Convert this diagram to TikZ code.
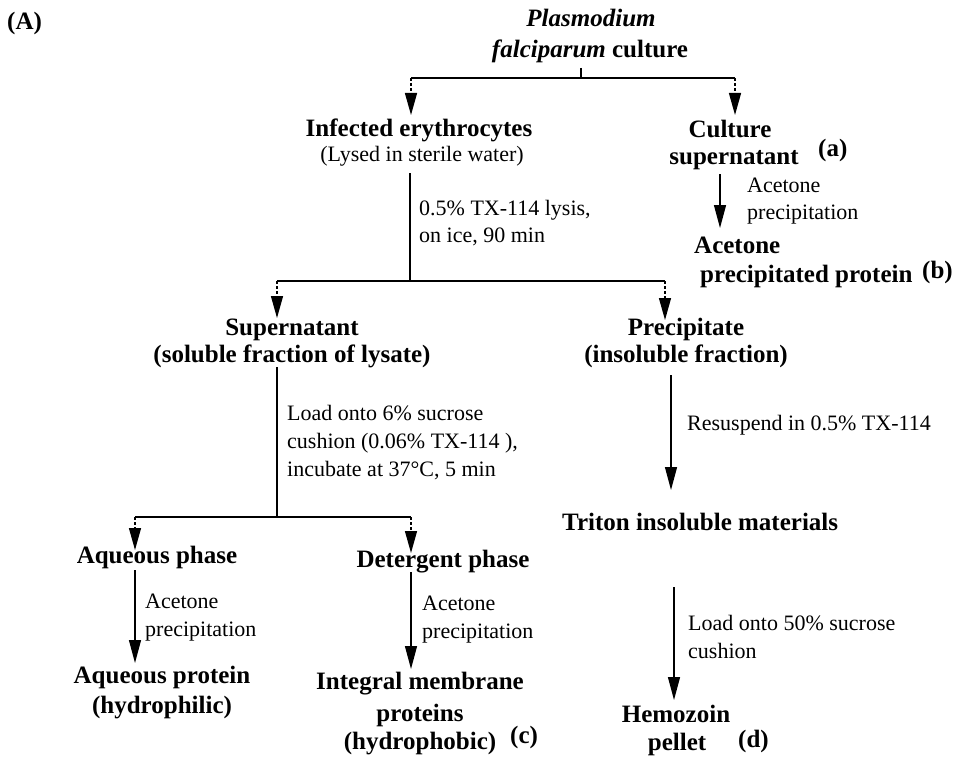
\documentclass[tikz,border=0pt]{standalone}
\usepackage{fontspec}
\setmainfont{Liberation Serif}
\usetikzlibrary{arrows.meta}
\tikzset{
  bt/.style={font=\fontsize{25}{29}\selectfont\bfseries, inner sep=0pt},
  rt/.style={font=\fontsize{22}{26}\selectfont, inner sep=0pt},
  conn/.style={line width=1.3pt},
  arr/.style={line width=1.3pt, -{Triangle[length=23pt,width=12pt]}},
  darr/.style={line width=1.3pt, dash pattern=on 3pt off 2pt, -{Triangle[length=22pt,width=12pt]}},
}
\begin{document}
\begin{tikzpicture}[x=1pt,y=-1pt]
\useasboundingbox (0,0) rectangle (963,757);
% texts
\node[bt, anchor=base west] (lblA) at (7,30) {(A)};
\node[bt, anchor=base] (pf1) at (591,27) {\itshape Plasmodium};
\node[bt, anchor=base] (pf2) at (590,58) {\textit{falciparum} culture};
\node[bt, anchor=base] (inf1) at (419,136) {Infected erythrocytes};
\node[rt, anchor=base] (inf2) at (422,161) {(Lysed in sterile water)};
\node[bt, anchor=base] (cs1) at (730,137) {Culture};
\node[bt, anchor=base] (cs2) at (734,164) {supernatant};
\node[bt, anchor=base west] (la) at (818,156) {(a)};
\node[rt, anchor=base west] (acl1) at (747,192) {Acetone};
\node[rt, anchor=base west] (acl2) at (747,219) {precipitation};
\node[bt, anchor=base west] (ap1) at (694,253) {Acetone};
\node[bt, anchor=base west] (ap2) at (700,282) {precipitated protein};
\node[bt, anchor=base west] (lb) at (922,278) {(b)};
\node[rt, anchor=base west] (lys1) at (419,215) {0.5\% TX-114 lysis,};
\node[rt, anchor=base west] (lys2) at (419,242) {on ice, 90 min};
\node[bt, anchor=base] (sup1) at (292,335) {Supernatant};
\node[bt, anchor=base] (sup2) at (292,362) {(soluble fraction of lysate)};
\node[bt, anchor=base] (pre1) at (686,335) {Precipitate};
\node[bt, anchor=base] (pre2) at (686,362) {(insoluble fraction)};
\node[rt, anchor=base west] (suc1) at (287,420) {Load onto 6\% sucrose};
\node[rt, anchor=base west] (suc2) at (287,448) {cushion (0.06\% TX-114 ),};
\node[rt, anchor=base west] (suc3) at (287,476) {incubate at 37°C, 5 min};
\node[bt, anchor=base] (aq1) at (157,563) {Aqueous phase};
\node[bt, anchor=base] (de1) at (443,567) {Detergent phase};
\node[rt, anchor=base west] (aqa1) at (145,608) {Acetone};
\node[rt, anchor=base west] (aqa2) at (145,636) {precipitation};
\node[bt, anchor=base] (aqp1) at (162,683) {Aqueous protein};
\node[bt, anchor=base] (aqp2) at (162,713) {(hydrophilic)};
\node[rt, anchor=base west] (dea1) at (422,610) {Acetone};
\node[rt, anchor=base west] (dea2) at (422,638) {precipitation};
\node[bt, anchor=base] (imp1) at (420,689) {Integral membrane};
\node[bt, anchor=base] (imp2) at (420,721) {proteins};
\node[bt, anchor=base] (imp3) at (420,749) {(hydrophobic)};
\node[bt, anchor=base west] (lc) at (510,743) {(c)};
\node[rt, anchor=base west] (res) at (687,430) {Resuspend in 0.5\% TX-114};
\node[bt, anchor=base west] (tri) at (562,530) {Triton insoluble materials};
\node[rt, anchor=base west] (lo1) at (688,630) {Load onto 50\% sucrose};
\node[rt, anchor=base west] (lo2) at (688,658) {cushion};
\node[bt, anchor=base] (hem1) at (676,722) {Hemozoin};
\node[bt, anchor=base] (hem2) at (677,750) {pellet};
\node[bt, anchor=base west] (ld) at (738,747) {(d)};
% junction coordinates
\coordinate (t0) at (581,68);
\coordinate (t1) at (581,78);
\coordinate (tl) at (411,78);
\coordinate (tr) at (735,78);
\coordinate (tlE) at (411,115);
\coordinate (trE) at (735,115);
\coordinate (c0) at (720,174);
\coordinate (c1) at (720,228);
\coordinate (m0) at (410,173);
\coordinate (m1) at (410,281);
\coordinate (ml) at (277,281);
\coordinate (mr) at (665,281);
\coordinate (mlE) at (277,318);
\coordinate (mrE) at (665,320);
\coordinate (s0) at (277,367);
\coordinate (s1) at (277,517);
\coordinate (sl) at (135,517);
\coordinate (sr) at (411,517);
\coordinate (slE) at (135,550);
\coordinate (srE) at (411,553);
\coordinate (a0) at (135,570);
\coordinate (a1) at (135,663);
\coordinate (d0) at (411,572);
\coordinate (d1) at (411,669);
\coordinate (p0) at (671,375);
\coordinate (p1) at (671,490);
\coordinate (h0) at (674,587);
\coordinate (h1) at (674,700);
% connectors
\draw[conn] (t0) -- (t1);
\draw[conn] (tl) -- (tr);
\draw[darr] (tl) -- (tlE);
\draw[darr] (tr) -- (trE);
\draw[arr] (c0) -- (c1);
\draw[conn] (m0) -- (m1);
\draw[conn] (ml) -- (mr);
\draw[darr] (ml) -- (mlE);
\draw[darr] (mr) -- (mrE);
\draw[conn] (s0) -- (s1);
\draw[conn] (sl) -- (sr);
\draw[darr] (sl) -- (slE);
\draw[darr] (sr) -- (srE);
\draw[arr] (a0) -- (a1);
\draw[arr] (d0) -- (d1);
\draw[arr] (p0) -- (p1);
\draw[arr] (h0) -- (h1);
\end{tikzpicture}
\end{document}
